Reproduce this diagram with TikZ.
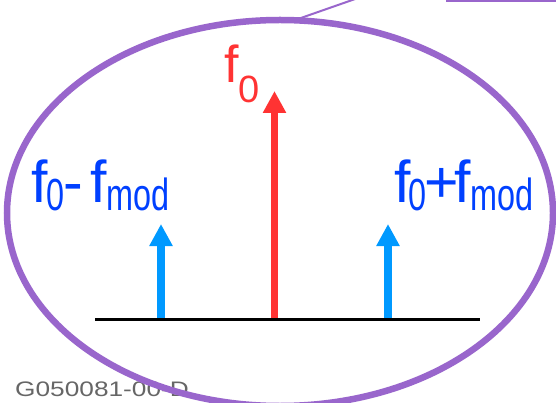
\documentclass[tikz,border=0pt]{standalone}
\usepackage{fontspec}
\setmainfont{Liberation Sans}
\usepackage{graphicx}
\usetikzlibrary{arrows.meta,shapes.geometric}
\definecolor{ringc}{HTML}{9966CC}
\definecolor{labc}{HTML}{0040FF}
\definecolor{sidec}{HTML}{0099FF}
\definecolor{carc}{HTML}{FF3333}
\definecolor{tagc}{HTML}{666666}
\newcommand\subsc[1]{\raisebox{-8pt}{\fontsize{45}{45}\selectfont\scalebox{0.72}[1]{#1}}}
\tikzset{
  line/.style={-{Triangle[width=22pt,length=22pt]},line width=8pt},
  lab/.style={anchor=base west,inner sep=0pt,font=\fontsize{59}{59}\selectfont,text=labc}
}
\begin{document}
\begin{tikzpicture}[x=1pt,y=-1pt]
\clip (0,0) rectangle (556,403);
\fill[white] (0,0) rectangle (556,403);
\node[anchor=base west,inner sep=0pt,text=tagc,font=\fontsize{21}{21}\selectfont] (tag) at (15,396) {\scalebox{1.25}[1]{G050081-00-D}};
% modulation ring
\node[ellipse,draw=ringc,line width=6.5pt,minimum width=546pt,minimum height=386pt,inner sep=0pt] (ring) at (280,213) {};
\coordinate (lk) at (298,19); \coordinate (lkend) at (358,-2);
\draw[ringc,line width=2pt] (lk) -- (lkend);
\coordinate (tl) at (446,1); \coordinate (tr) at (560,1);
\draw[ringc,line width=3pt] (tl) -- (tr);
% spectrum lines
\coordinate (lowbase) at (161,319.5); \coordinate (lowtip) at (161,224);
\coordinate (carbase) at (274.5,319.5); \coordinate (cartip) at (274.5,91);
\coordinate (upbase) at (388,319.5); \coordinate (uptip) at (388,224);
\draw[line,sidec] (lowbase) -- (lowtip);
\draw[line,sidec] (upbase) -- (uptip);
\draw[line,carc,line width=7pt] (carbase) -- (cartip);
\coordinate (axl) at (95,319.5); \coordinate (axr) at (480,319.5);
\draw[line width=3.5pt] (axl) -- (axr);
% labels
\node[lab,text=carc,font=\fontsize{52}{52}\selectfont] (carlab) at (224,83) {f\raisebox{-20pt}{\fontsize{38}{38}\selectfont 0}};
\node[lab] (lowlab) at (31,203) {f\kern-1pt\subsc{0}\kern-1pt-\hspace{7pt}f\subsc{mod}};
\node[lab] (uplab) at (394,203) {f\kern-2pt\subsc{0}\kern-2pt+\kern-5pt f\subsc{mod}};
\end{tikzpicture}
\end{document}
